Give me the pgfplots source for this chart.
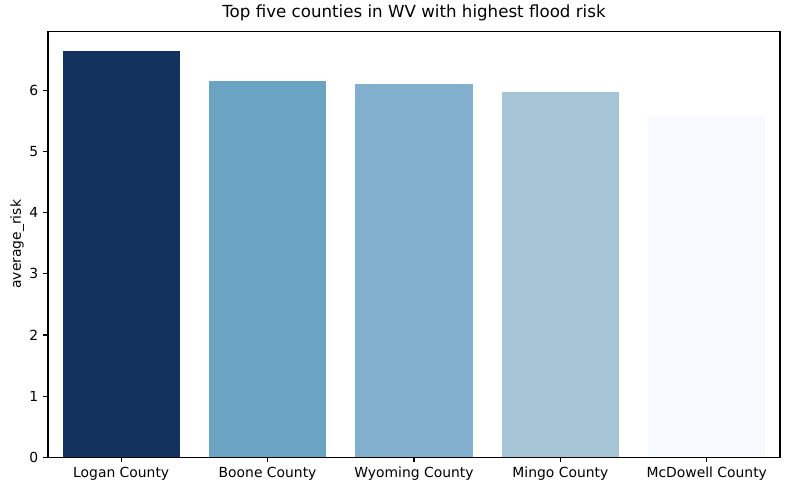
\documentclass[border=0pt]{standalone}
\usepackage{pgfplots}
\pgfplotsset{compat=1.18}
\usepackage{fontspec}
\setmainfont{DejaVu Sans}
\definecolor{c1}{HTML}{14325E}
\definecolor{c2}{HTML}{6BA3C3}
\definecolor{c3}{HTML}{82AFCD}
\definecolor{c4}{HTML}{A6C6D8}
\definecolor{c5}{HTML}{F7FBFF}
\begin{document}
\begin{tikzpicture}
\begin{axis}[
  scale only axis,
  width=527pt, height=306.7pt,
  xmin=-0.5, xmax=4.5, ymin=0, ymax=6.97,
  xtick={0,1,2,3,4},
  xticklabels={Logan County,Boone County,Wyoming County,Mingo County,McDowell County},
  ytick={0,1,2,3,4,5,6},
  tick align=outside, major tick length=3.5pt,
  xtick pos=bottom, ytick pos=left,
  tick style={black, line width=0.8pt},
  axis line style={line width=0.8pt},
  /pgf/number format/assume math mode=true,
  tick label style={font=\fontsize{10}{12}\selectfont},
  ylabel={average\_risk},
  ylabel style={font=\fontsize{10}{12}\selectfont, yshift=-3pt},
  title={Top five counties in WV with highest flood risk},
  title style={font=\fontsize{12}{14}\selectfont, yshift=-2pt},
  ybar, bar width=0.8, bar shift=0pt,
]
\addplot[draw=none, fill=c1] coordinates {(0,6.64)};
\addplot[draw=none, fill=c2] coordinates {(1,6.16)};
\addplot[draw=none, fill=c3] coordinates {(2,6.10)};
\addplot[draw=none, fill=c4] coordinates {(3,5.98)};
\addplot[draw=none, fill=c5] coordinates {(4,5.59)};
\end{axis}
\path (current axis.south west) ++(-34.56pt,-24.5pt) rectangle ++(568.8pt,352.8pt);
\end{tikzpicture}
\end{document}
